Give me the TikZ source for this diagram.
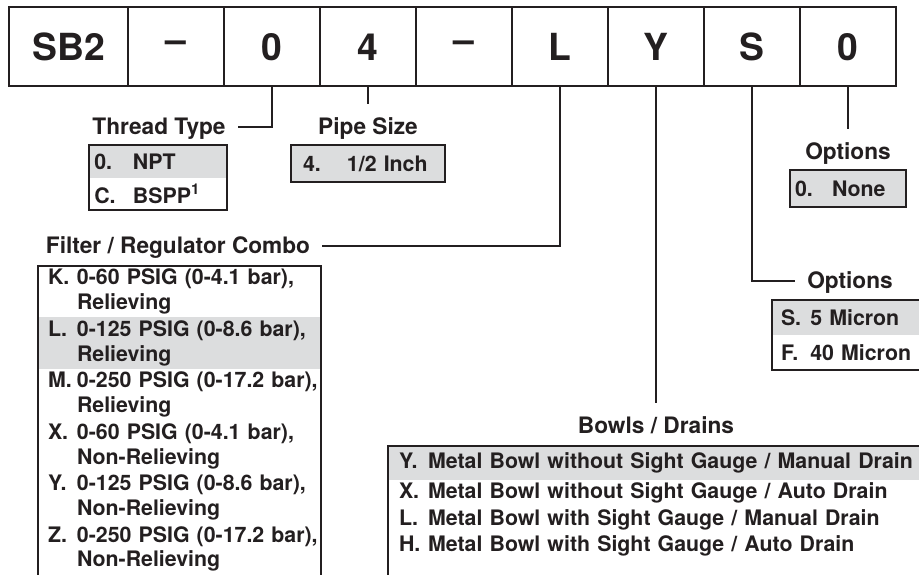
\documentclass[tikz,border=0pt]{standalone}
\usepackage{fontspec}
\setmainfont{TeX Gyre Heros}
\usepackage{xcolor}
\usepackage{tikz}
\usetikzlibrary{positioning}

\definecolor{ink}{HTML}{231F20}
\definecolor{selgray}{HTML}{DCDDDE}

\newcommand{\codefont}{\fontsize{28}{32}\selectfont\bfseries}
\newcommand{\headfont}{\fontsize{17}{20}\selectfont\bfseries}
\newcommand{\itemfont}{\fontsize{16}{18.5}\selectfont\bfseries}
\newcommand{\lbl}[3][6.5pt]{\hspace*{#1}\makebox[#2][l]{#3}}

\tikzset{
  cell/.style={draw=ink, line width=1.5pt, text=ink, font=\codefont, minimum width=72pt, minimum height=59.25pt, outer sep=0pt, inner sep=0pt},
  head/.style={anchor=base, text=ink, font=\headfont, text height=11pt, text depth=0pt, inner xsep=9pt, inner ysep=2pt},
  entry/.style={anchor=north west, text=ink, font=\itemfont, align=left, inner xsep=1pt, inner ysep=0pt, outer sep=0pt},
  sel/.style={fill=selgray},
  boxline/.style={draw=ink, line width=1.5pt},
  conn/.style={draw=ink, line width=1.5pt},
  tick/.style={conn, shorten >=9pt}
}

\begin{document}
\begin{tikzpicture}[x=0.75pt, y=-0.75pt]
  \useasboundingbox (0,0) rectangle (919,574);
  \clip (0,0) rectangle (919,574);

  % model code
  \node (sb) [cell, minimum width=89.25pt] at (68.5,47) {SB2};
  \node (d1) [cell, right=0pt of sb] {–};
  \node (thr) [cell, right=0pt of d1] {0};
  \node (pipe) [cell, right=0pt of thr] {4};
  \node (d2) [cell, right=0pt of pipe] {–};
  \node (frc) [cell, right=0pt of d2] {L};
  \node (bwl) [cell, right=0pt of frc] {Y};
  \node (flt) [cell, right=0pt of bwl] {S};
  \node (opt) [cell, right=0pt of flt] {0};

  % headings
  \node (thrhead) [head] at (159,134) {Thread Type};
  \node (pipehead) [head] at (368,134) {Pipe Size};
  \node (opthead) [head] at (848,159) {Options};
  \node (frchead) [head] at (178,253) {Filter / Regulator Combo};
  \node (flthead) [head] at (850,288) {Options};
  \node (bwlhead) [head] at (656,433) {Bowls / Drains};

  % thread type
  \node (thr0) [entry, sel, text width=101.5pt, minimum height=24.75pt] at (89,145) {\lbl[3pt]{29pt}{0.}NPT};
  \node (thrC) [entry, text width=101.5pt, minimum height=24pt] at (thr0.south west) {\lbl[3pt]{29pt}{C.}BSPP\textsuperscript{1}};
  \draw [boxline] (thr0.north west) rectangle (thrC.south east);

  % pipe size
  \node (pipe4) [entry, sel, text width=113.5pt, minimum height=27.75pt] at (291,145) {\lbl[8pt]{33pt}{4.}1/2 Inch};
  \draw [boxline] (pipe4.north west) rectangle (pipe4.south east);

  % options
  \node (opt0) [entry, sel, text width=85pt, minimum height=27.75pt] at (790,170) {\lbl[2.75pt]{27.75pt}{0.}None};
  \draw [boxline] (opt0.north west) rectangle (opt0.south east);

  % filter / regulator combo
  \node (frcK) [entry, text width=210.25pt, minimum height=38.6pt] at (38,266) {\lbl{21.75pt}{K.}0-60 PSIG (0-4.1 bar),\\\lbl{21.75pt}{}Relieving};
  \node (frcL) [entry, sel, text width=210.25pt, minimum height=38.6pt] at (frcK.south west) {\lbl{21.75pt}{L.}0-125 PSIG (0-8.6 bar),\\\lbl{21.75pt}{}Relieving};
  \node (frcM) [entry, text width=210.25pt, minimum height=38.6pt] at (frcL.south west) {\lbl{21.75pt}{M.}0-250 PSIG (0-17.2 bar),\\\lbl{21.75pt}{}Relieving};
  \node (frcX) [entry, text width=210.25pt, minimum height=38.6pt] at (frcM.south west) {\lbl{21.75pt}{X.}0-60 PSIG (0-4.1 bar),\\\lbl{21.75pt}{}Non-Relieving};
  \node (frcY) [entry, text width=210.25pt, minimum height=38.6pt] at (frcX.south west) {\lbl{21.75pt}{Y.}0-125 PSIG (0-8.6 bar),\\\lbl{21.75pt}{}Non-Relieving};
  \node (frcZ) [entry, text width=210.25pt, minimum height=38.6pt] at (frcY.south west) {\lbl{21.75pt}{Z.}0-250 PSIG (0-17.2 bar),\\\lbl{21.75pt}{}Non-Relieving};
  \draw [boxline] (frcK.north west) rectangle ([yshift=-10pt]frcZ.south east);

  % filter options
  \node (fltS) [entry, sel, text width=133pt, minimum height=26.25pt] at (772,300) {\lbl[5.75pt]{22pt}{S.}5 Micron};
  \node (fltF) [entry, text width=133pt, minimum height=26.25pt] at (fltS.south west) {\lbl[5.75pt]{22pt}{F.}40 Micron};
  \draw [boxline] (fltS.north west) rectangle (fltF.south east);

  % bowls / drains
  \node (bwlY) [entry, sel, text width=418pt, minimum height=25.5pt] at (388,446) {\lbl[7.25pt]{21.75pt}{Y.}Metal Bowl without Sight Gauge / Manual Drain};
  \node (bwlX) [entry, text width=418pt, minimum height=19.9pt] at (bwlY.south west) {\lbl[7.25pt]{21.75pt}{X.}Metal Bowl without Sight Gauge / Auto Drain};
  \node (bwlL) [entry, text width=418pt, minimum height=19.9pt] at (bwlX.south west) {\lbl[7.25pt]{21.75pt}{L.}Metal Bowl with Sight Gauge / Manual Drain};
  \node (bwlH) [entry, text width=418pt, minimum height=19.9pt] at (bwlL.south west) {\lbl[7.25pt]{21.75pt}{H.}Metal Bowl with Sight Gauge / Auto Drain};
  \draw [boxline] (bwlY.north west) rectangle ([yshift=-30pt]bwlH.south east);

  % connectors
  \draw [conn] (thr.south) |- (thrhead.east);
  \draw [tick] (pipe.south) -- (pipehead.north);
  \draw [tick] (opt.south) -- (opthead.north);
  \draw [conn] (frc.south) |- (frchead.east);
  \draw [conn] (flt.south) |- (flthead.west);
  \draw [tick] (bwl.south) -- (bwlhead.north);
\end{tikzpicture}
\end{document}
